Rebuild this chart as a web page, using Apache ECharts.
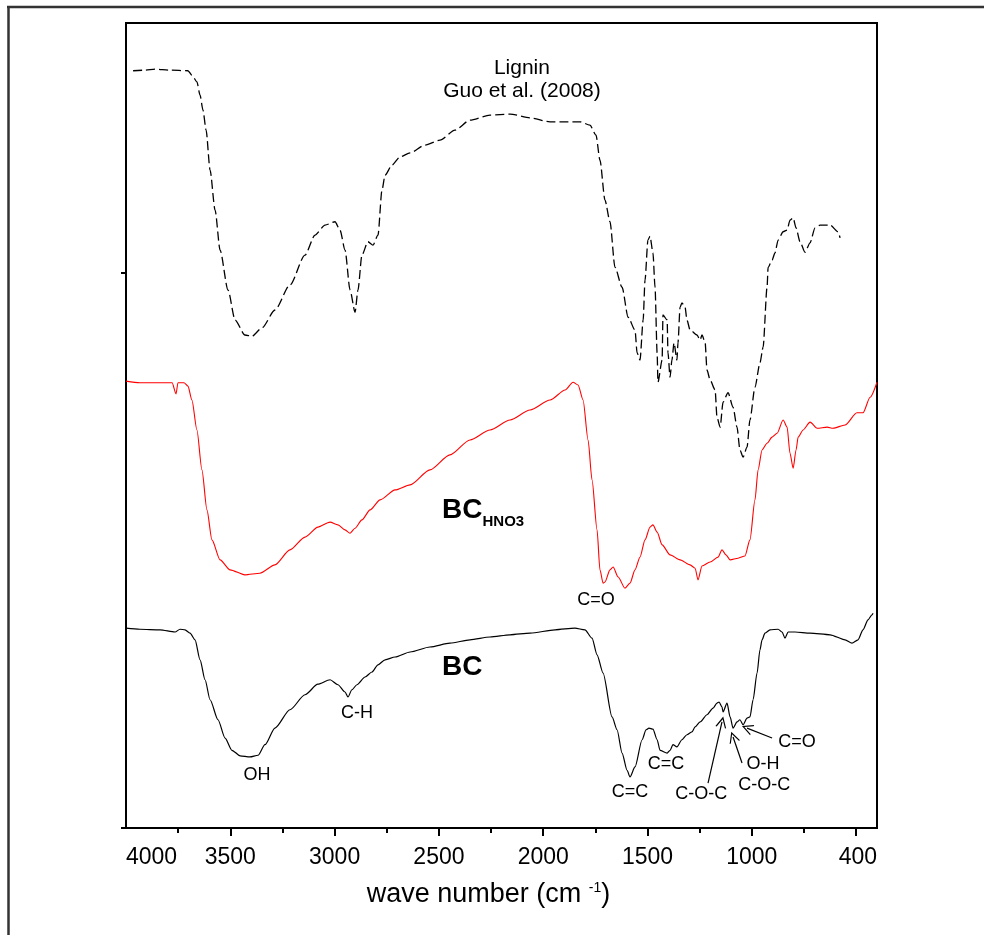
<!DOCTYPE html>
<html>
<head>
<meta charset="utf-8">
<title>FTIR spectra</title>
<script src="https://cdn.jsdelivr.net/npm/echarts@6/dist/echarts.min.js"></script>
<style>
  html, body { margin: 0; padding: 0; background: #fff; }
  #main { width: 984px; height: 935px; }
</style>
</head>
<body>
<div id="main"></div>
<script>
// wave number (cm-1) / transmittance (a.u.)
const ligninWn = [
  3966, 3909, 3861, 3789, 3703, 3684, 3660, 3645, 3631, 3616,
  3597, 3573, 3549, 3511, 3477, 3430, 3396, 3348, 3286, 3214,
  3142, 3094, 3046, 2998, 2974, 2950, 2926, 2902, 2888, 2869,
  2840, 2816, 2792, 2773, 2758, 2725, 2686, 2638, 2567, 2495,
  2423, 2351, 2255, 2159, 2063, 1967, 1895, 1823, 1776, 1747,
  1728, 1704, 1680, 1656, 1622, 1593, 1560, 1550, 1536, 1521,
  1512, 1498, 1488, 1474, 1464, 1454, 1450, 1430, 1426, 1406,
  1402, 1392, 1383, 1373, 1359, 1354, 1344, 1335, 1320, 1311,
  1296, 1263, 1248, 1239, 1224, 1215, 1200, 1176, 1167, 1152,
  1138, 1114, 1090, 1071, 1057, 1042, 1023, 1009, 985, 961,
  946, 927, 922, 903, 889, 874, 850, 831, 817, 802,
  788, 769, 745, 721, 697, 673, 625, 587, 577
];
const ligninT = [
  136.4, 136.5, 136.7, 136.5, 136.4, 135.6, 134.4, 132.0, 129.3, 125.7,
  118.5, 111.3, 104.1, 96.9, 91.5, 88.8, 88.6, 90.1, 93.3, 97.8,
  103.2, 106.8, 108.6, 109.2, 107.7, 104.1, 96.9, 92.9, 96.9, 103.2,
  105.6, 105.0, 106.8, 114.9, 117.6, 119.4, 120.9, 121.6, 123.0, 123.9,
  125.7, 127.5, 128.4, 128.6, 127.9, 127.2, 127.2, 127.2, 126.6, 124.8,
  120.3, 113.1, 109.2, 101.0, 97.4, 92.0, 89.7, 85.6, 84.3, 91.5,
  98.7, 105.9, 106.6, 103.6, 97.4, 85.6, 80.3, 84.3, 92.4, 91.5,
  85.6, 81.2, 84.3, 87.4, 84.3, 87.4, 93.8, 94.6, 93.8, 91.5,
  89.7, 88.8, 87.9, 88.8, 87.5, 82.5, 80.7, 78.9, 74.0, 72.2,
  76.7, 78.4, 75.8, 72.2, 68.1, 66.8, 68.6, 73.5, 79.4, 83.8,
  86.6, 97.4, 101.0, 102.3, 103.6, 105.9, 107.4, 107.7, 109.5, 109.9,
  108.1, 105.6, 103.7, 105.4, 108.1, 108.6, 108.6, 107.4, 106.3
];

const hno3Wn = [
  4000, 3933, 3837, 3779, 3760, 3751, 3722, 3703, 3684, 3660,
  3636, 3612, 3588, 3549, 3501, 3430, 3358, 3286, 3214, 3142,
  3080, 3022, 2984, 2950, 2926, 2902, 2869, 2830, 2782, 2710,
  2638, 2543, 2447, 2351, 2255, 2159, 2063, 1967, 1895, 1857,
  1833, 1809, 1785, 1766, 1742, 1728, 1713, 1704, 1680, 1665,
  1641, 1608, 1584, 1560, 1536, 1512, 1488, 1474, 1454, 1430,
  1392, 1344, 1296, 1272, 1258, 1239, 1200, 1162, 1143, 1124,
  1104, 1066, 1033, 1009, 985, 970, 951, 927, 903, 879,
  850, 831, 817, 802, 788, 778, 754, 721, 687, 639,
  611, 553, 496, 467, 433, 400
];
const hno3T = [
  80.5, 80.2, 80.2, 80.2, 78.2, 80.2, 80.2, 79.6, 77.1, 71.7,
  64.5, 57.3, 51.9, 48.3, 46.5, 45.6, 45.9, 47.4, 50.1, 52.4,
  54.2, 55.1, 54.6, 53.7, 53.1, 54.0, 55.5, 57.3, 59.1, 60.9,
  61.8, 64.5, 67.2, 69.9, 71.7, 73.5, 75.3, 77.1, 78.9, 80.3,
  79.8, 77.1, 69.9, 62.7, 53.7, 46.5, 44.1, 44.3, 46.5, 47.0,
  45.2, 43.2, 44.1, 46.5, 48.8, 51.9, 54.2, 54.6, 53.3, 51.0,
  49.2, 48.3, 47.4, 46.8, 44.7, 47.2, 47.9, 48.8, 50.1, 49.2,
  48.3, 48.6, 49.0, 51.9, 59.1, 64.5, 68.1, 69.3, 70.4, 71.1,
  73.5, 72.2, 67.5, 64.8, 68.1, 70.4, 71.7, 73.1, 72.0, 72.2,
  72.0, 72.6, 74.8, 74.8, 77.6, 80.3
];

const bcWn = [
  4000, 3933, 3837, 3765, 3741, 3717, 3693, 3669, 3645, 3621,
  3597, 3559, 3525, 3492, 3453, 3406, 3367, 3334, 3286, 3214,
  3142, 3080, 3022, 2984, 2950, 2936, 2917, 2893, 2854, 2821,
  2792, 2758, 2710, 2638, 2543, 2447, 2351, 2255, 2159, 2063,
  1943, 1848, 1800, 1766, 1742, 1713, 1670, 1646, 1622, 1598,
  1584, 1560, 1526, 1507, 1493, 1474, 1454, 1440, 1406, 1392,
  1378, 1359, 1335, 1311, 1287, 1272, 1248, 1215, 1186, 1167,
  1157, 1143, 1138, 1119, 1104, 1090, 1071, 1057, 1042, 1023,
  1009, 994, 975, 961, 951, 937, 913, 874, 855, 841,
  826, 793, 721, 625, 553, 520, 491, 467, 443, 424,
  419
];
const bcT = [
  36.0, 35.8, 35.7, 35.3, 35.8, 35.7, 35.1, 33.9, 30.3, 26.7,
  23.1, 19.5, 16.2, 14.0, 13.0, 12.8, 13.1, 15.0, 18.0, 21.3,
  24.0, 25.9, 26.7, 25.8, 24.5, 23.6, 24.9, 25.8, 27.2, 28.1,
  29.4, 30.3, 30.8, 31.7, 32.6, 33.3, 33.9, 34.4, 34.8, 35.1,
  35.7, 36.0, 35.7, 34.2, 31.2, 27.9, 20.0, 17.7, 13.5, 10.4,
  9.2, 11.0, 15.9, 17.7, 18.0, 17.8, 15.9, 14.0, 13.5, 14.0,
  15.0, 14.6, 15.9, 16.8, 17.3, 18.2, 19.1, 20.4, 21.6, 22.5,
  22.7, 21.8, 20.9, 22.5, 20.0, 18.0, 19.1, 19.5, 18.6, 19.8,
  20.0, 23.1, 27.9, 32.1, 33.9, 35.1, 35.7, 35.8, 35.3, 34.2,
  35.3, 35.3, 35.1, 34.8, 33.9, 33.3, 33.9, 35.7, 37.5, 38.4,
  38.7
];

// axis ticks and labels
const majorTicks = [500, 1000, 1500, 2000, 2500, 3000, 3500];
const minorTicks = [750, 1250, 1750, 2250, 2750, 3250, 3750];
const tickLabels = [400, 1000, 1500, 2000, 2500, 3000, 3500, 4000];
const yTicks = [0, 100];

// band assignments: text, wave number, transmittance of the label centre
const bandLabels = [
  { text: 'Lignin', wn: 2102, t: 136.9 },
  { text: 'Guo et al. (2008)', wn: 2102, t: 132.7 },
  { text: 'C=O', wn: 1747, t: 41.1 },
  { text: 'OH', wn: 3372, t: 9.5 },
  { text: 'C-H', wn: 2893, t: 20.7 },
  { text: 'C=C', wn: 1584, t: 6.5 },
  { text: 'C=C', wn: 1411, t: 11.5 },
  { text: 'C-O-C', wn: 1243, t: 6.1 },
  { text: 'O-H', wn: 946, t: 11.5 },
  { text: 'C-O-C', wn: 941, t: 7.7 },
  { text: 'C=O', wn: 783, t: 15.5 }
];
const sampleLabels = [
  { text: '{a|BC}{b|HNO3}', wn: 2485, t: 57.3 },
  { text: '{a|BC}', wn: 2485, t: 29.0 }
];
const arrows = [
  [[1210, 8.1], [1143, 19.1]],
  [[1047, 11.7], [1090, 16.4]],
  [[903, 16.2], [1023, 18.0]]
];

const font = 'Liberation Sans, Arial, sans-serif';
const zip = (xs, ys) => xs.map((x, i) => [x, ys[i]]);

let chartDom = document.getElementById('main');
let myChart = echarts.init(chartDom);
let option;

option = {
  animation: false,
  grid: {
    left: 126, right: 107, top: 23, bottom: 107,
    show: true, borderColor: '#000', borderWidth: 2
  },
  xAxis: [
    {
      type: 'value', min: 400, max: 4000, inverse: true,
      name: 'wave number (cm {sup|-1}{p|)}',
      nameLocation: 'middle',
      nameGap: 53,
      nameTextStyle: {
        fontFamily: font, fontSize: 27, color: '#000',
        padding: [0, 26, 0, 0],
        rich: {
          sup: { fontFamily: font, fontSize: 14, color: '#000', verticalAlign: 'top' },
          p: { fontFamily: font, fontSize: 27, color: '#000' }
        }
      },
      axisLine: { lineStyle: { color: '#000', width: 2 } },
      axisTick: { customValues: majorTicks, length: 8, lineStyle: { color: '#000', width: 2 } },
      axisLabel: {
        customValues: tickLabels, margin: 18,
        fontFamily: font, fontSize: 23, color: '#000',
        alignMinLabel: 'right', alignMaxLabel: 'left',
        formatter: v => String(v)
      },
      splitLine: { show: false }
    },
    {
      type: 'value', min: 400, max: 4000, inverse: true, position: 'bottom',
      axisLine: { show: false },
      axisTick: { customValues: minorTicks, length: 5, lineStyle: { color: '#000', width: 2 } },
      axisLabel: { show: false },
      splitLine: { show: false }
    }
  ],
  yAxis: {
    type: 'value', min: 0, max: 145,
    axisLine: { lineStyle: { color: '#000', width: 2 } },
    axisTick: { customValues: yTicks, length: 5, lineStyle: { color: '#000', width: 2 } },
    axisLabel: { show: false },
    splitLine: { show: false }
  },
  series: [
    {
      name: 'Lignin', type: 'line', data: zip(ligninWn, ligninT),
      showSymbol: false, smooth: 0.25, smoothMonotone: 'x', silent: true,
      lineStyle: { color: '#000', width: 1.3, type: [9, 4] }
    },
    {
      name: 'BC HNO3', type: 'line', data: zip(hno3Wn, hno3T),
      showSymbol: false, smooth: 0.25, smoothMonotone: 'x', silent: true,
      lineStyle: { color: '#ff0000', width: 1.1 }
    },
    {
      name: 'BC', type: 'line', data: zip(bcWn, bcT),
      showSymbol: false, smooth: 0.25, smoothMonotone: 'x', silent: true,
      lineStyle: { color: '#000', width: 1.2 },
      markLine: {
        silent: true,
        symbol: ['none', 'path://M0,0 L6,11 L4.6,11 L0,2.6 L-4.6,11 L-6,11 Z'],
        symbolSize: 11,
        label: { show: false },
        lineStyle: { color: '#000', width: 1.2, type: 'solid' },
        data: arrows.map(a => [{ coord: a[0] }, { coord: a[1] }])
      }
    }
  ]
};

myChart.setOption(option);

// annotation texts are placed through the axes
const toPx = (wn, t) => myChart.convertToPixel({ xAxisIndex: 0, yAxisIndex: 0 }, [wn, t]);
let graphics = [
  { type: 'line', shape: { x1: 7, y1: 7, x2: 984, y2: 7 }, style: { stroke: '#333', lineWidth: 2.5 } },
  { type: 'line', shape: { x1: 8.5, y1: 6, x2: 8.5, y2: 935 }, style: { stroke: '#333', lineWidth: 2.5 } }
];
bandLabels.forEach(l => {
  const p = toPx(l.wn, l.t);
  graphics.push({
    type: 'text', x: p[0], y: p[1], silent: true,
    style: {
      text: l.text, fill: '#000', fontFamily: font,
      fontSize: (l.text === 'Lignin' || l.text.startsWith('Guo')) ? 21 : 18,
      align: 'center', verticalAlign: 'middle'
    }
  });
});
sampleLabels.forEach(l => {
  const p = toPx(l.wn, l.t);
  graphics.push({
    type: 'text', x: p[0], y: p[1], silent: true,
    style: {
      text: l.text, fill: '#000', align: 'left', verticalAlign: 'middle',
      rich: {
        a: { fontFamily: font, fontSize: 28, fontWeight: 'bold', fill: '#000', verticalAlign: 'bottom' },
        b: { fontFamily: font, fontSize: 15, fontWeight: 'bold', fill: '#000', verticalAlign: 'bottom', padding: [0, 0, -5, 0] }
      }
    }
  });
});
myChart.setOption({ graphic: graphics });
</script>
</body>
</html>
